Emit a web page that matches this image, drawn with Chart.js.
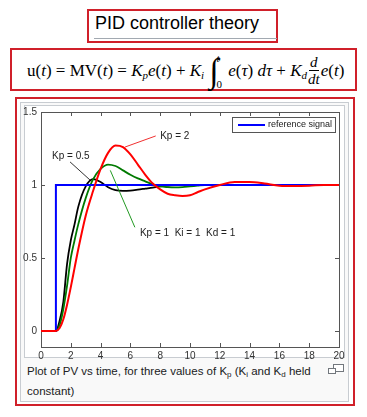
<!DOCTYPE html>
<html>
<head>
<meta charset="utf-8">
<script src="https://cdn.jsdelivr.net/npm/chart.js@4.4.1/dist/chart.umd.min.js"></script>
<style>
  body { margin: 0; width: 367px; height: 417px; background: #fff; position: relative; overflow: hidden;
         font-family: "Liberation Sans", Arial, sans-serif; }
  .abs { position: absolute; }
  #titleBox { left: 87px; top: 9px; width: 187px; height: 30px; border: 2px solid #d0202a; }
  #title { left: 95px; top: 13px; font-size: 18px; line-height: 21px; color: #000; }
  #titleRule { left: 94px; top: 38px; width: 183px; height: 1px; background: #a2a9b1; }
  #formulaBox { left: 10px; top: 48px; width: 343px; height: 39px; border: 2px solid #d0202a; }
  #formula { left: 27px; top: 50px; height: 41px; display: flex; align-items: center;
             font-family: "Liberation Serif", "DejaVu Serif", serif; font-size: 17px; color: #000; white-space: nowrap; }
  #formula i { font-style: italic; }
  #formula sub { font-size: 11px; vertical-align: -3px; }
  .int { display: inline-flex; align-items: center; margin: 0 2px 0 5px; }
  .int .sign { font-size: 34px; line-height: 34px; font-style: italic; }
  .int .lim { display: inline-flex; flex-direction: column; justify-content: space-between; height: 38px;
              font-size: 11px; margin-left: -2px; }
  .frac { display: inline-flex; flex-direction: column; align-items: center; margin: 0 1px; font-size: 15px; line-height: 16px; }
  .frac .num { border-bottom: 1px solid #000; padding: 0 1px; }
  #outerBox { left: 15px; top: 97px; width: 336px; height: 305px; border: 2px solid #d0202a; }
  #thumb { left: 20px; top: 102px; width: 327px; height: 298px; background: #f9f9f9; border: 1px solid #c8ccd1; }
  #image { left: 24px; top: 105px; width: 319px; height: 251px; background: #fff; border: 1px solid #c8ccd1; }
  #caption { left: 27px; top: 363px; width: 296px; font-size: 11.5px; line-height: 16px; color: #202122; }
  #caption sub { font-size: 8px; vertical-align: -2px; }
  .ic { border: 1px solid #72777d; background: #fff; }
  #chart { position: absolute; left: 0; top: 0; z-index: 5; }
</style>
</head>
<body>
<div id="titleBox" class="abs"></div>
<div id="title" class="abs">PID controller theory</div>
<div id="titleRule" class="abs"></div>
<div id="formulaBox" class="abs"></div>
<div id="formula" class="abs">
  <span>u(<i>t</i>) = MV(<i>t</i>) = <i>K<sub>p</sub>e</i>(<i>t</i>) + <i>K<sub>i</sub></i></span>
  <span class="int"><span class="sign">∫</span><span class="lim"><i>t</i><span>0</span></span></span>
  <span>&nbsp;<i>e</i>(<i>τ</i>) <i>dτ</i> + <i>K<sub>d</sub></i></span>
  <span class="frac"><i class="num">d</i><i>dt</i></span>
  <span><i>e</i>(<i>t</i>)</span>
</div>
<div id="outerBox" class="abs"></div>
<div id="thumb" class="abs"></div>
<div id="image" class="abs"></div>
<div id="caption" class="abs">Plot of PV vs time, for three values of K<sub>p</sub> (K<sub>i</sub> and K<sub>d</sub> held constant)</div>
<div class="abs ic" style="left:333px;top:364px;width:9px;height:6px;"></div>
<div class="abs ic" style="left:328px;top:368px;width:6px;height:4px;"></div>
<canvas id="chart" width="367" height="417"></canvas>
<script>
// reference step
const refTime = [0, 1, 1, 20];
const refValue = [0, 0, 1, 1];

// common time base of the three responses
const respTime = [0, 1, 1.25, 1.5, 1.75, 2, 2.25, 2.5, 3, 3.5, 4, 4.5, 5, 5.5, 6, 6.5, 7, 7.5, 8, 8.5, 9, 9.5, 10, 10.5, 11, 12, 13, 14, 15, 16, 17, 18, 19, 20];
const kp05 = [0, 0, 0.07, 0.2, 0.46, 0.62, 0.73, 0.85, 0.99, 1.04, 1.02, 0.985, 0.965, 0.96, 0.962, 0.968, 0.975, 0.982, 0.99, 0.995, 1, 1, 1, 1, 1, 1, 1, 1, 1, 1, 1, 1, 1, 1];
const kp1 = [0, 0, 0.04, 0.15, 0.31, 0.5, 0.62, 0.73, 0.91, 1.04, 1.11, 1.14, 1.13, 1.1, 1.07, 1.045, 1.025, 1.005, 0.99, 0.985, 0.983, 0.985, 0.99, 0.995, 1, 1, 1, 1, 1, 1, 1, 1, 1, 1];
const kp2 = [0, 0, 0.02, 0.08, 0.18, 0.3, 0.43, 0.56, 0.79, 0.96, 1.11, 1.22, 1.27, 1.26, 1.21, 1.14, 1.07, 1.01, 0.97, 0.94, 0.93, 0.925, 0.93, 0.95, 0.97, 1, 1.02, 1.02, 1.01, 0.995, 0.993, 0.995, 1, 1];

const xTicks = [0, 2, 4, 6, 8, 10, 12, 14, 16, 18, 20];
const yTicks = [0, 0.5, 1, 1.5];

// callouts: label, label anchor, leader start, leader end (data units)
const notes = [
  { text: "Kp = 2", at: [8.0, 1.336], from: [7.7, 1.336], to: [5.64, 1.26], color: "#f03030" },
  { text: "Kp = 0.5", at: [0.74, 1.2], from: [1.95, 1.158], to: [3.29, 1.034], color: "#333" },
  { text: "Kp = 1  Ki = 1  Kd = 1", at: [6.64, 0.67], from: [4.65, 1.10], to: [6.3, 0.71], color: "#229922" }
];

const pts = (xs, ys) => xs.map((x, i) => ({ x: x, y: ys[i] }));

const framePlugin = {
  id: "frame",
  beforeDatasetsDraw(chart) {
    const { ctx, chartArea: a, scales: { x, y } } = chart;
    ctx.save();
    ctx.strokeStyle = "#555";
    ctx.lineWidth = 1;
    ctx.strokeRect(a.left + 0.5, a.top + 0.5, a.right - a.left, a.bottom - a.top);
    ctx.beginPath();
    xTicks.forEach(v => {
      const px = Math.round(x.getPixelForValue(v)) + 0.5;
      ctx.moveTo(px, a.bottom); ctx.lineTo(px, a.bottom - 4);
      ctx.moveTo(px, a.top); ctx.lineTo(px, a.top + 4);
    });
    yTicks.forEach(v => {
      const py = Math.round(y.getPixelForValue(v)) + 0.5;
      ctx.moveTo(a.left, py); ctx.lineTo(a.left + 4, py);
      ctx.moveTo(a.right, py); ctx.lineTo(a.right - 4, py);
    });
    ctx.stroke();
    ctx.restore();
  },
  afterDatasetsDraw(chart) {
    const { ctx, scales: { x, y } } = chart;
    ctx.save();
    ctx.lineWidth = 1;
    notes.forEach(n => {
      ctx.strokeStyle = n.color;
      ctx.beginPath();
      ctx.moveTo(x.getPixelForValue(n.from[0]), y.getPixelForValue(n.from[1]));
      ctx.lineTo(x.getPixelForValue(n.to[0]), y.getPixelForValue(n.to[1]));
      ctx.stroke();
      ctx.fillStyle = "#222";
      ctx.font = "10px 'Liberation Sans', Arial, sans-serif";
      ctx.textBaseline = "middle";
      ctx.fillText(n.text, x.getPixelForValue(n.at[0]), y.getPixelForValue(n.at[1]));
    });
    // legend box
    const ref = chart.data.datasets[1];
    ctx.fillStyle = "#fff";
    ctx.fillRect(232, 117, 103, 15);
    ctx.strokeStyle = "#555";
    ctx.strokeRect(232.5, 117.5, 103, 15);
    ctx.strokeStyle = ref.borderColor;
    ctx.lineWidth = 2;
    ctx.beginPath(); ctx.moveTo(238, 125); ctx.lineTo(265, 125); ctx.stroke();
    ctx.fillStyle = "#222";
    ctx.font = "9px 'Liberation Sans', Arial, sans-serif";
    ctx.fillText(ref.label, 268, 125);
    ctx.restore();
  }
};

new Chart(document.getElementById("chart"), {
  type: "line",
  data: {
    datasets: [
      { label: "Kp = 2", data: pts(respTime, kp2), borderColor: "#ff0000", borderWidth: 2, cubicInterpolationMode: "monotone" },
      { label: "reference signal", data: pts(refTime, refValue), borderColor: "#0000ff", borderWidth: 2, tension: 0 },
      { label: "Kp = 1", data: pts(respTime, kp1), borderColor: "#007a00", borderWidth: 1.8, cubicInterpolationMode: "monotone" },
      { label: "Kp = 0.5", data: pts(respTime, kp05), borderColor: "#000000", borderWidth: 1.8, cubicInterpolationMode: "monotone" }
    ]
  },
  options: {
    responsive: false,
    animation: false,
    devicePixelRatio: 1,
    layout: { padding: { left: 0, top: 112, right: 28, bottom: 50 } },
    elements: { point: { radius: 0 }, line: { fill: false } },
    plugins: { legend: { display: false }, tooltip: { enabled: false } },
    scales: {
      x: {
        type: "linear", min: 0, max: 20,
        afterFit: s => { s.height = 20; },
        afterBuildTicks: s => { s.ticks = xTicks.map(v => ({ value: v })); },
        grid: { display: false, drawTicks: false },
        border: { display: false },
        ticks: { color: "#333", padding: 3, maxRotation: 0, callback: v => String(v),
                 font: { size: 10, family: "'Liberation Sans', Arial, sans-serif" } }
      },
      y: {
        type: "linear", min: -0.11, max: 1.5,
        afterFit: s => { s.width = 41; },
        afterBuildTicks: s => { s.ticks = yTicks.map(v => ({ value: v })); },
        grid: { display: false, drawTicks: false },
        border: { display: false },
        ticks: { color: "#333", padding: 4, callback: v => String(v),
                 font: { size: 10, family: "'Liberation Sans', Arial, sans-serif" } }
      }
    }
  },
  plugins: [framePlugin]
});
</script>
</body>
</html>
